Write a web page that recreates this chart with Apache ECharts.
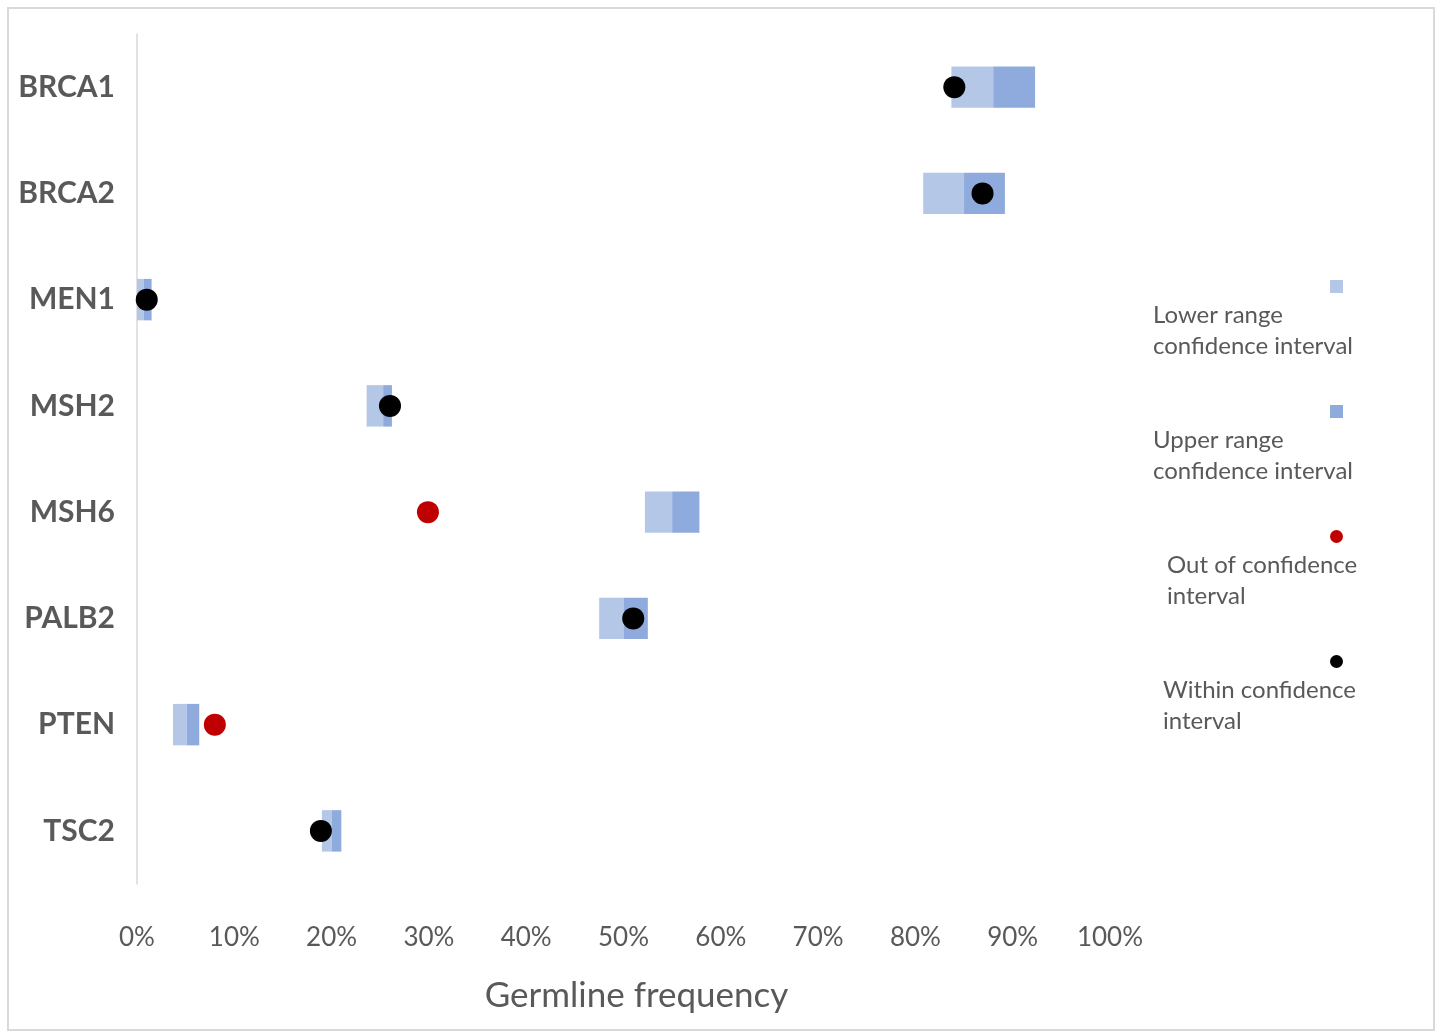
<!DOCTYPE html>
<html>
<head>
    <meta charset="utf-8" />
    <title>Germline frequency</title>
    <script src="https://cdn.jsdelivr.net/npm/echarts@6/dist/echarts.min.js"></script>
    <style>
        html, body { margin: 0; padding: 0; background: #fff; }
        #main { width: 1442px; height: 1034px; }
    </style>
</head>
<body>
    <div id="main"></div>
    <script type="text/javascript">
        // genes, top to bottom
        var genes = ['BRCA1', 'BRCA2', 'MEN1', 'MSH2', 'MSH6', 'PALB2', 'PTEN', 'TSC2'];
        // confidence interval, in %
        var ciLow  = [83.7, 80.8, 0.0, 23.6, 52.2, 47.5, 3.7, 19.0];
        var ciMid  = [88.0, 85.0, 0.7, 25.3, 55.0, 50.0, 5.1, 20.0];
        var ciHigh = [92.3, 89.2, 1.5, 26.2, 57.8, 52.5, 6.4, 21.0];
        // observed germline frequency, in %
        var observed = [84.0, 86.9, 1.0, 26.0, 29.9, 51.0, 8.0, 18.9];
        var inside   = [true, true, true, true, false, true, false, true];

        var lowerPart = ciMid.map(function (v, i) { return +(v - ciLow[i]).toFixed(2); });
        var upperPart = ciHigh.map(function (v, i) { return +(v - ciMid[i]).toFixed(2); });
        var withinPts = [], outPts = [];
        observed.forEach(function (v, i) {
            if (inside[i]) withinPts.push([v, i]); else outPts.push([v, i]);
        });

        var gray = '#595959';
        var font = 'Lato, "Open Sans", sans-serif';

        var myChart = echarts.init(document.getElementById('main'));

        var legendText = [
            { x: 1153, y: 300, t: 'Lower range\nconfidence interval' },
            { x: 1153, y: 425, t: 'Upper range\nconfidence interval' },
            { x: 1167, y: 550, t: 'Out of confidence\ninterval' },
            { x: 1163, y: 675, t: 'Within confidence\ninterval' }
        ];

        var option = {
            backgroundColor: '#fff',
            animation: false,
            grid: { left: 137, right: 332, top: 34, bottom: 150 },
            xAxis: {
                type: 'value',
                min: 0,
                max: 100,
                interval: 10,
                name: 'Germline frequency',
                nameLocation: 'middle',
                nameGap: 94,
                nameTextStyle: { fontSize: 35, color: gray, fontFamily: font, padding: [0, 0, 0, 26] },
                axisLine: { show: false },
                axisTick: { show: false },
                splitLine: { show: false },
                axisLabel: {
                    formatter: '{value}%',
                    fontSize: 26,
                    color: gray,
                    fontFamily: font,
                    margin: 41
                }
            },
            yAxis: {
                type: 'category',
                data: genes,
                inverse: true,
                axisLine: { show: true, lineStyle: { color: '#d9d9d9', width: 1.5 } },
                axisTick: { show: false },
                axisLabel: {
                    fontSize: 30,
                    fontWeight: 'bold',
                    color: gray,
                    fontFamily: font,
                    margin: 22
                }
            },
            legend: {
                orient: 'vertical',
                left: 1325,
                top: 275,
                itemWidth: 13,
                itemHeight: 13,
                itemGap: 112,
                selectedMode: false,
                formatter: function () { return ''; },
                data: [
                    { name: 'Lower range confidence interval', icon: 'rect' },
                    { name: 'Upper range confidence interval', icon: 'rect' },
                    { name: 'Out of confidence interval', icon: 'circle' },
                    { name: 'Within confidence interval', icon: 'circle' }
                ]
            },
            graphic: [
                {
                    type: 'rect',
                    shape: { x: 8, y: 8, width: 1426, height: 1022 },
                    style: { fill: 'none', stroke: '#d9d9d9', lineWidth: 2 },
                    silent: true
                }
            ].concat(legendText.map(function (l) {
                return {
                    type: 'text',
                    x: l.x,
                    y: l.y,
                    style: {
                        text: l.t,
                        fill: gray,
                        font: '24px ' + font,
                        lineHeight: 31
                    },
                    silent: true
                };
            })),
            series: [
                {
                    name: 'base',
                    type: 'bar',
                    stack: 'ci',
                    data: ciLow,
                    barWidth: '39%',
                    itemStyle: { color: 'transparent' },
                    silent: true
                },
                {
                    name: 'Lower range confidence interval',
                    type: 'bar',
                    stack: 'ci',
                    data: lowerPart,
                    itemStyle: { color: '#b4c7e7' }
                },
                {
                    name: 'Upper range confidence interval',
                    type: 'bar',
                    stack: 'ci',
                    data: upperPart,
                    itemStyle: { color: '#8faadc' }
                },
                {
                    name: 'Out of confidence interval',
                    type: 'scatter',
                    data: outPts,
                    symbolSize: 22,
                    z: 5,
                    itemStyle: { color: '#c00000', opacity: 1 }
                },
                {
                    name: 'Within confidence interval',
                    type: 'scatter',
                    data: withinPts,
                    symbolSize: 22,
                    z: 5,
                    itemStyle: { color: '#000000', opacity: 1 }
                }
            ]
        };

        myChart.setOption(option);
    </script>
</body>
</html>
